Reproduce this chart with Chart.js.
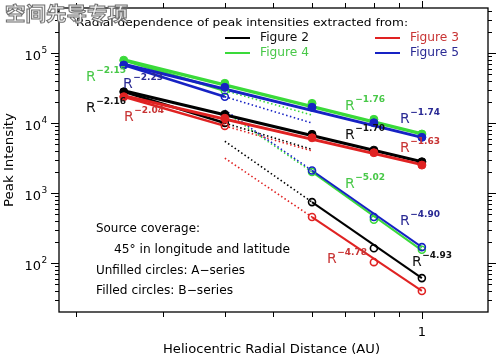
<!DOCTYPE html>
<html>
<head>
<meta charset="utf-8">
<script src="https://cdn.jsdelivr.net/npm/chart.js@4.4.0/dist/chart.umd.min.js"></script>
<style>
  html, body { margin: 0; padding: 0; background: #fff; }
</style>
</head>
<body>
<canvas id="myChart" width="500" height="360"></canvas>
<script>
// Radial dependence of peak intensities
const figures = ["Figure 2", "Figure 3", "Figure 4", "Figure 5"];
const lineColors = ["#000000", "#e02222", "#3ada3a", "#1622c4"];
const textColors = ["#111111", "#c83434", "#48c848", "#2a2a94"];

const radiiB = [0.25, 0.4, 0.6, 0.8, 1.0];   // filled circles (B-series)
const radiiA = [0.4, 0.6, 0.8, 1.0];         // unfilled circles (A-series)

const bFig2 = [2.8e4, 1.33e4, 6.9e3, 4.1e3, 2.8e3];
const bFig3 = [2.38e4, 1.17e4, 6.16e3, 3.77e3, 2.51e3];
const bFig4 = [7.9e4, 3.69e4, 1.91e4, 1.13e4, 6.97e3];
const bFig5 = [6.74e4, 3.24e4, 1.68e4, 1.01e4, 6.25e3];

const aFig2 = [1.0e4, 743, 163, 61];
const aFig3 = [9.1e3, 454, 103, 40];
const aFig4 = [2.9e4, 2.0e3, 415, 155];
const aFig5 = [2.38e4, 2.1e3, 454, 169];

// fitted power laws (end points)
const lateX = [0.25, 1.0];
const lateFig2 = [2.9e4, 2.8e3];
const lateFig3 = [2.45e4, 2.55e3];
const lateFig4 = [8.0e4, 7.0e3];
const lateFig5 = [6.9e4, 6.25e3];

const earlyX = [0.25, 0.4, 0.6];
const earlyFig2 = [2.8e4, 1.0e4, 4.2e3];
const earlyFig3 = [2.38e4, 9.1e3, 4.0e3];
const earlyFig4 = [7.9e4, 2.9e4, 1.3e4];
const earlyFig5 = [6.74e4, 2.38e4, 1.0e4];

const steepX = [0.4, 0.6, 1.0];
const steepFig2 = [5.5e3, 743, 61];
const steepFig3 = [3.15e3, 454, 40];
const steepFig4 = [1.45e4, 2.0e3, 152];
const steepFig5 = [1.53e4, 2.1e3, 169];

const expEarly = ["\u22122.16", "\u22122.04", "\u22122.15", "\u22122.23"];
const expLate = ["\u22121.70", "\u22121.63", "\u22121.76", "\u22121.74"];
const expSteep = ["\u22124.93", "\u22124.78", "\u22125.02", "\u22124.90"];

const xTicks = [0.2, 0.3, 0.4, 0.5, 0.6, 0.7, 0.8, 0.9, 1.0];
const xTickLabels = ["", "", "", "", "", "", "", "", "1"];
const yMajor = [1e2, 1e3, 1e4, 1e5];
const yExpLabels = ["2", "3", "4", "5"];
const yMinorSteps = [2, 3, 4, 5, 6, 7, 8, 9];

const bSeries = [bFig2, bFig3, bFig4, bFig5];
const aSeries = [aFig2, aFig3, aFig4, aFig5];
const lateSeries = [lateFig2, lateFig3, lateFig4, lateFig5];
const earlySeries = [earlyFig2, earlyFig3, earlyFig4, earlyFig5];
const steepSeries = [steepFig2, steepFig3, steepFig4, steepFig5];

function pts(xs, ys) {
  return xs.map((x, i) => ({ x: x, y: ys[i] }));
}

// red over black, blue over green (index 0 is drawn last)
const drawOrder = [1, 0, 3, 2];
const markerSets = [];
const lineSets = [];
drawOrder.forEach((f) => {
  const c = lineColors[f];
  markerSets.push({
    data: pts(radiiB, bSeries[f]), showLine: false,
    pointRadius: 4, pointBackgroundColor: c, pointBorderColor: c, pointBorderWidth: 1,
  });
  markerSets.push({
    data: pts(radiiA, aSeries[f]), showLine: false,
    pointRadius: 3.5, pointBackgroundColor: "rgba(0,0,0,0)", pointBorderColor: c, pointBorderWidth: 1.6,
  });
  lineSets.push({
    data: pts(lateX, lateSeries[f]), showLine: true, pointRadius: 0,
    borderColor: c, borderWidth: f === 2 ? 3.5 : 3,
  });
  lineSets.push({
    data: pts(earlyX, earlySeries[f]), showLine: true, pointRadius: 0,
    borderColor: c, borderWidth: 2.5,
    segment: {
      borderDash: (ctx) => (ctx.p0DataIndex === 1 ? [1.5, 2.5] : undefined),
      borderWidth: (ctx) => (ctx.p0DataIndex === 1 ? 1.6 : 2.5),
    },
  });
  lineSets.push({
    data: pts(steepX, steepSeries[f]), showLine: true, pointRadius: 0,
    borderColor: c, borderWidth: 2,
    segment: {
      borderDash: (ctx) => (ctx.p0DataIndex === 0 ? [1.5, 2.5] : undefined),
      borderWidth: (ctx) => (ctx.p0DataIndex === 0 ? 1.6 : 2),
    },
  });
});

function fitText(ctx, txt, x, y, w, font, color) {
  ctx.font = font;
  ctx.fillStyle = color;
  const m = ctx.measureText(txt).width;
  ctx.save();
  ctx.translate(x, y);
  ctx.scale(w / m, 1);
  ctx.fillText(txt, 0, 0);
  ctx.restore();
}

function powerLabel(ctx, f, exp, x, y) {
  ctx.textAlign = "left";
  ctx.textBaseline = "middle";
  ctx.fillStyle = textColors[f];
  ctx.font = "14px 'DejaVu Sans'";
  ctx.fillText("R", x, y);
  const rw = ctx.measureText("R").width;
  ctx.font = "bold 9px 'DejaVu Sans'";
  ctx.fillText(exp, x + rw + 0.5, y - 6);
}

const FONT = "'DejaVu Sans'";

const decor = {
  id: "decor",
  beforeDraw(chart) {
    const ctx = chart.ctx;
    ctx.save();
    ctx.fillStyle = "#fff";
    ctx.fillRect(0, 0, chart.width, chart.height);
    ctx.restore();
  },
  afterDraw(chart) {
    const { ctx, chartArea: a, scales: { x, y } } = chart;
    ctx.save();
    ctx.strokeStyle = "#000";
    ctx.lineWidth = 1.3;
    ctx.strokeRect(a.left, a.top, a.right - a.left, a.bottom - a.top);

    // y ticks, outward on both sides
    ctx.lineWidth = 1;
    ctx.beginPath();
    const yTickAt = (v, len) => {
      const py = Math.round(y.getPixelForValue(v)) + 0.5;
      ctx.moveTo(a.left - len, py); ctx.lineTo(a.left, py);
      ctx.moveTo(a.right, py); ctx.lineTo(a.right + len, py);
    };
    [1e1].concat(yMajor).forEach((d) => {
      yMinorSteps.forEach((k) => {
        const v = d * k;
        if (v > y.min && v < y.max) yTickAt(v, 4);
      });
    });
    yMajor.forEach((v) => yTickAt(v, 8));
    xTicks.forEach((v, i) => {
      const px = Math.round(x.getPixelForValue(v)) + 0.5;
      const len = xTickLabels[i] ? 7 : 5;
      ctx.moveTo(px, a.bottom); ctx.lineTo(px, a.bottom + len);
      ctx.moveTo(px, a.top); ctx.lineTo(px, a.top - len);
    });
    ctx.stroke();

    // tick labels
    ctx.fillStyle = "#000";
    ctx.textBaseline = "middle";
    yMajor.forEach((v, i) => {
      const py = y.getPixelForValue(v);
      ctx.textAlign = "right";
      ctx.font = "13px " + FONT;
      ctx.fillText("10", 41, py + 4);
      ctx.textAlign = "left";
      ctx.font = "9px " + FONT;
      ctx.fillText(yExpLabels[i], 41.5, py - 2);
    });
    ctx.textAlign = "center";
    ctx.font = "13px " + FONT;
    xTicks.forEach((v, i) => {
      if (xTickLabels[i]) ctx.fillText(xTickLabels[i], x.getPixelForValue(v), 333);
    });

    // axis titles
    ctx.textAlign = "left";
    fitText(ctx, "Heliocentric Radial Distance (AU)", 163, 350, 217, "13px " + FONT, "#000");
    ctx.save();
    ctx.translate(10, 207);
    ctx.rotate(-Math.PI / 2);
    fitText(ctx, "Peak Intensity", 0, 0, 94, "13px " + FONT, "#000");
    ctx.restore();

    // title and legend
    fitText(ctx, "Radial dependence of peak intensities extracted from:", 76, 23, 332, "11px " + FONT, "#000");
    const legend = [[0, 225, 38], [2, 225, 53], [1, 375, 38], [3, 375, 53]];
    legend.forEach(([f, lx, ly]) => {
      ctx.strokeStyle = lineColors[f];
      ctx.lineWidth = 2;
      ctx.beginPath();
      ctx.moveTo(lx, ly); ctx.lineTo(lx + 25, ly);
      ctx.stroke();
      fitText(ctx, figures[f], lx + 35, ly, 49, "12px " + FONT, textColors[f]);
    });

    // notes
    fitText(ctx, "Source coverage:", 96, 229, 104, "12px " + FONT, "#000");
    fitText(ctx, "45\u00b0 in longitude and latitude", 114, 250, 176, "12px " + FONT, "#000");
    fitText(ctx, "Unfilled circles: A\u2212series", 96, 271, 149, "12px " + FONT, "#000");
    fitText(ctx, "Filled circles: B\u2212series", 96, 291, 137, "12px " + FONT, "#000");

    // power-law exponents
    powerLabel(ctx, 2, expEarly[2], 86, 77);
    powerLabel(ctx, 3, expEarly[3], 123, 84);
    powerLabel(ctx, 0, expEarly[0], 86, 108);
    powerLabel(ctx, 1, expEarly[1], 124, 117);
    powerLabel(ctx, 2, expLate[2], 345, 106);
    powerLabel(ctx, 3, expLate[3], 400, 119);
    powerLabel(ctx, 0, expLate[0], 345, 135);
    powerLabel(ctx, 1, expLate[1], 400, 148);
    powerLabel(ctx, 2, expSteep[2], 345, 184);
    powerLabel(ctx, 3, expSteep[3], 400, 221);
    powerLabel(ctx, 1, expSteep[1], 327, 259);
    powerLabel(ctx, 0, expSteep[0], 412, 262);

    // watermark
    ctx.font = "bold 19px 'Noto Sans CJK SC'";
    ctx.textAlign = "left";
    ctx.textBaseline = "middle";
    const wm = "\u7a7a\u95f4\u5148\u5bfc\u4e13\u9879";
    const ww = ctx.measureText(wm).width;
    ctx.save();
    ctx.translate(5, 14);
    ctx.scale(123 / ww, 1);
    ctx.fillStyle = "#f2f2f2";
    ctx.fillText(wm, 0, 0);
    ctx.strokeStyle = "#707070";
    ctx.lineWidth = 1;
    ctx.strokeText(wm, 0, 0);
    ctx.restore();
    ctx.restore();
  },
};

const ctx = document.getElementById("myChart");
new Chart(ctx, {
  type: "scatter",
  data: { datasets: markerSets.concat(lineSets) },
  options: {
    responsive: false,
    animation: false,
    events: [],
    layout: { padding: { left: 59, top: 8, right: 12, bottom: 48 } },
    plugins: { legend: { display: false }, tooltip: { enabled: false } },
    scales: {
      x: { type: "logarithmic", min: 0.185, max: 1.36, display: false },
      y: { type: "logarithmic", min: 20, max: 4.4e5, display: false },
    },
  },
  plugins: [decor],
});
</script>
</body>
</html>
